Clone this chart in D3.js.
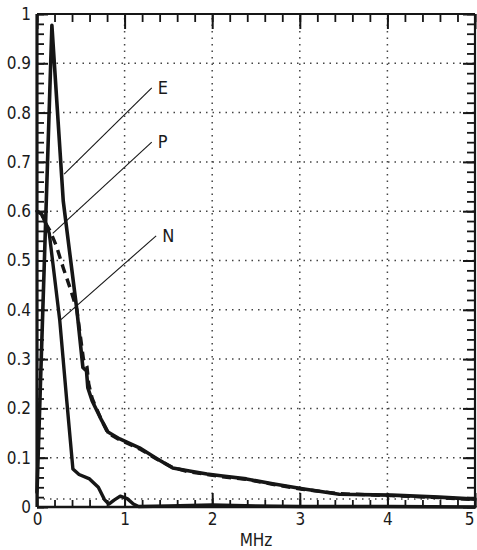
<!DOCTYPE html>
<html><head><meta charset="utf-8">
<script src="https://cdn.jsdelivr.net/npm/d3@7/dist/d3.min.js"></script>
<style>
html,body{margin:0;padding:0;background:#fff;}
svg{display:block;}
text{font-family:"DejaVu Sans Condensed","DejaVu Sans",sans-serif;fill:#1a1a1a;}
</style></head>
<body>
<script>
// ---- data (MHz, relative amplitude) ----
const curveE = [[0,0.03],[0.17,0.977],[0.30,0.62],[0.455,0.40],[0.524,0.283],[0.565,0.276],[0.58,0.242],[0.63,0.215],[0.74,0.175],[0.81,0.152],[0.945,0.138],[1.17,0.12],[1.37,0.098],[1.55,0.079],[1.74,0.073],[1.94,0.067],[2.12,0.063],[2.39,0.057],[2.69,0.047],[3.03,0.037],[3.45,0.026],[4.05,0.024],[4.59,0.02],[5.0,0.016]];
const curveP = [[0,0.6],[0.05,0.595],[0.10,0.575],[0.15,0.56],[0.22,0.53],[0.30,0.485],[0.38,0.443],[0.455,0.40],[0.53,0.30],[0.57,0.285],[0.59,0.25],[0.63,0.22],[0.74,0.175],[0.81,0.150],[0.945,0.136],[1.17,0.118],[1.37,0.097],[1.55,0.08],[1.74,0.071],[1.94,0.066],[2.12,0.061],[2.39,0.056],[2.69,0.046],[3.03,0.036],[3.45,0.027],[4.05,0.023],[4.59,0.019],[5.0,0.015]];
const curveN = [[0,0.60],[0.05,0.595],[0.10,0.575],[0.14,0.555],[0.26,0.378],[0.34,0.215],[0.41,0.077],[0.48,0.066],[0.60,0.057],[0.70,0.040],[0.77,0.015],[0.82,0.006],[0.88,0.014],[0.95,0.022],[1.03,0.017],[1.10,0.006],[1.16,0.001],[1.5,0.002],[2.0,0.004],[2.5,0.002],[3.0,0.001],[4.0,0.001],[5.0,0.0]];

const xTicks = [0,1,2,3,4,5];
const xTickLabels = ["0","1","2","3","4","5"];
const yTicks = [0,0.1,0.2,0.3,0.4,0.5,0.6,0.7,0.8,0.9,1];
const yTickLabels = ["0","0.1","0.2","0.3","0.4","0.5","0.6","0.7","0.8","0.9","1"];
const xMinorTicks = d3.range(0,26).map(i=>i*0.2);
const yMinorTicks = d3.range(0,51).map(i=>i*0.02);
const xGrid = [1,2,3,4];
const yGrid = [0.016,0.1,0.2,0.3,0.4,0.5,0.6,0.7,0.8,0.9];
const xLabel = "MHz";
// leader lines: [curve point, label anchor], label text
const leaders = [
  {name:"E", from:[0.31,0.675], to:[1.31,0.85]},
  {name:"P", from:[0.18,0.555], to:[1.31,0.74]},
  {name:"N", from:[0.26,0.378], to:[1.36,0.55]}
];

// ---- drawing ----
const W=477,H=550;
const x = d3.scaleLinear().domain([0,5]).range([37,475]);
const y = d3.scaleLinear().domain([0,1]).range([507,14]);
const ink = "#161616";

const svg = d3.select("body").append("svg").attr("width",W).attr("height",H);
svg.append("rect").attr("width",W).attr("height",H).attr("fill","#fff");

// grid
const grid = svg.append("g").attr("stroke","#444").attr("stroke-width",1.5).attr("stroke-dasharray","1.5 5");
grid.selectAll("line.h").data(yGrid).join("line").attr("class","h")
  .attr("x1",x(0)).attr("x2",x(5)).attr("y1",d=>y(d)).attr("y2",d=>y(d));
grid.selectAll("line.v").data(xGrid).join("line").attr("class","v")
  .attr("x1",d=>x(d)).attr("x2",d=>x(d)).attr("y1",y(0)).attr("y2",y(1));

function styleAxis(g, w){
  g.select(".domain").remove();
  g.selectAll(".tick line").attr("stroke",ink).attr("stroke-width",w);
  g.selectAll("text").attr("font-size",17).attr("fill",ink);
}
// left
svg.append("g").attr("transform",`translate(${x(0)},0)`)
  .call(d3.axisLeft(y).tickValues(yMinorTicks).tickSize(-7).tickFormat(""))
  .call(g=>styleAxis(g,1.8));
svg.append("g").attr("transform",`translate(${x(0)},0)`)
  .call(d3.axisLeft(y).tickValues(yTicks).tickSize(-11).tickPadding(6).tickFormat((d,i)=>yTickLabels[i]))
  .call(g=>styleAxis(g,2));
// right
svg.append("g").attr("transform",`translate(${x(5)},0)`)
  .call(d3.axisRight(y).tickValues(yMinorTicks).tickSize(-8).tickFormat(""))
  .call(g=>styleAxis(g,1.8));
svg.append("g").attr("transform",`translate(${x(5)},0)`)
  .call(d3.axisRight(y).tickValues(yTicks).tickSize(-12).tickFormat(""))
  .call(g=>styleAxis(g,2));
// top
svg.append("g").attr("transform",`translate(0,${y(1)})`)
  .call(d3.axisTop(x).tickValues(xMinorTicks).tickSize(-8).tickFormat(""))
  .call(g=>styleAxis(g,1.8));
svg.append("g").attr("transform",`translate(0,${y(1)})`)
  .call(d3.axisTop(x).tickValues(xTicks).tickSize(-15).tickFormat(""))
  .call(g=>styleAxis(g,2));
// bottom
svg.append("g").attr("transform",`translate(0,${y(0)})`)
  .call(d3.axisBottom(x).tickValues(xMinorTicks).tickSize(-7).tickFormat(""))
  .call(g=>styleAxis(g,1.8));
svg.append("g").attr("transform",`translate(0,${y(0)})`)
  .call(d3.axisBottom(x).tickValues(xTicks).tickSize(-14).tickPadding(6).tickFormat((d,i)=>xTickLabels[i]))
  .call(g=>styleAxis(g,2))
  .call(g=>g.selectAll(".tick text").filter(d=>d===5).attr("text-anchor","end").attr("dx",-1));

// frame
const frame = svg.append("g").attr("stroke",ink).attr("fill","none");
frame.append("line").attr("x1",x(0)).attr("x2",x(0)).attr("y1",y(0)).attr("y2",y(1)).attr("stroke-width",3.2);
frame.append("line").attr("x1",x(0)).attr("x2",x(5)).attr("y1",y(1)).attr("y2",y(1)).attr("stroke-width",2.2);
frame.append("line").attr("x1",x(0)).attr("x2",x(5)).attr("y1",y(0)).attr("y2",y(0)).attr("stroke-width",2.6);
frame.append("line").attr("x1",x(5)).attr("x2",x(5)).attr("y1",y(0)).attr("y2",y(1)).attr("stroke-width",2.2);

// axis title
svg.append("text").attr("x",(x(0)+x(5))/2).attr("y",546).attr("text-anchor","middle")
  .attr("font-size",17).text(xLabel);

// curves
const line = d3.line().x(d=>x(d[0])).y(d=>y(d[1])).curve(d3.curveLinear);
svg.append("path").datum(curveN).attr("d",line).attr("fill","none").attr("stroke",ink)
  .attr("stroke-width",3.4).attr("stroke-linejoin","round").attr("stroke-linecap","round");
svg.append("path").datum(curveP).attr("d",line).attr("fill","none").attr("stroke",ink)
  .attr("stroke-width",3.4).attr("stroke-dasharray","9 6").attr("stroke-linejoin","round");
svg.append("path").datum(curveE).attr("d",line).attr("fill","none").attr("stroke",ink)
  .attr("stroke-width",3.6).attr("stroke-linejoin","round").attr("stroke-linecap","round");

// leaders
const lg = svg.append("g");
lg.selectAll("line").data(leaders).join("line")
  .attr("x1",d=>x(d.from[0])).attr("y1",d=>y(d.from[1]))
  .attr("x2",d=>x(d.to[0])).attr("y2",d=>y(d.to[1]))
  .attr("stroke",ink).attr("stroke-width",1.1);
lg.selectAll("text").data(leaders).join("text")
  .attr("x",d=>x(d.to[0])+6).attr("y",d=>y(d.to[1])+6)
  .attr("font-size",18).text(d=>d.name);
</script>
</body></html>
